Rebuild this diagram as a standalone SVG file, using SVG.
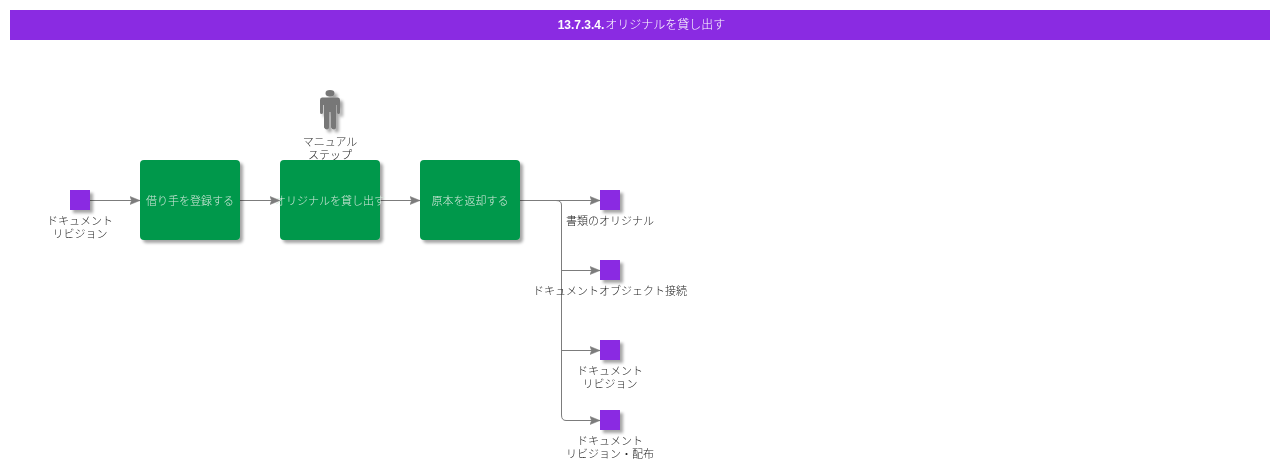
<svg xmlns="http://www.w3.org/2000/svg" width="1280" height="470" viewBox="0 0 1280 470">
<style>
text{font-family:"Liberation Sans","Noto Sans CJK JP",sans-serif;font-size:11px;font-weight:300;text-anchor:middle;opacity:.99}
.l{fill:#222}
.w{fill:#d5e8dc}
.c{fill:none;stroke:#7c7c7c;stroke-width:1}
.b{fill:#8a2be2;filter:url(#s)}
.p{fill:#00984b;filter:url(#s)}
</style>
<defs>
<filter id="s" x="-20%" y="-20%" width="150%" height="150%"><feDropShadow dx="3" dy="3" stdDeviation="1.5" flood-color="#000" flood-opacity="0.35"/></filter>
<marker id="a" markerUnits="userSpaceOnUse" markerWidth="11" markerHeight="10" refX="10" refY="4.500" orient="auto"><path d="M0 0.500L10 4.500L0 8.500L1.500 4.500Z" fill="#7c7c7c" stroke="#7c7c7c" stroke-width=".5"/></marker>
</defs>
<g id="title"><rect x="10" y="10" width="1260" height="30" fill="#8a2be2"/><text x="641.500" y="29" fill="#fff" style="font-size:12px"><tspan style="font-weight:bold">13.7.3.4.</tspan><tspan dx="1">オリジナルを貸し出す</tspan></text></g>
<g id="connectors">
<path class="c" marker-end="url(#a)" d="M90 200.500H140"/>
<path class="c" marker-end="url(#a)" d="M240 200.500H280"/>
<path class="c" marker-end="url(#a)" d="M380 200.500H420"/>
<path class="c" marker-end="url(#a)" d="M520 200.500H600"/>
<path class="c" d="M556 200.500Q561.500 200.500 561.500 205V415"/>
<path class="c" marker-end="url(#a)" d="M561.500 270.500H600"/>
<path class="c" marker-end="url(#a)" d="M561.500 350.500H600"/>
<path class="c" marker-end="url(#a)" d="M561.500 415Q561.500 420.500 566 420.500H600"/>
</g>
<g id="n1"><rect class="b" x="70" y="190" width="20" height="20"/><text class="l" x="80" y="224.500">ドキュメント</text><text class="l" x="80" y="237.500">リビジョン</text></g>
<g id="n2"><rect class="p" x="140" y="160" width="100" height="80" rx="4"/><text class="w" x="190" y="204.500">借り手を登録する</text></g>
<g id="n3"><rect class="p" x="280" y="160" width="100" height="80" rx="4"/><text class="w" x="330" y="204.500">オリジナルを貸し出す</text></g>
<g id="n4"><rect class="p" x="420" y="160" width="100" height="80" rx="4"/><text class="w" x="470" y="204.500">原本を返却する</text></g>
<g id="actor"><path filter="url(#s)" fill="#777" d="M325.500 93.300a4.500 3.300 0 1 1 9 0a4.500 3.300 0 1 1-9 0ZM322 97.500H338Q340 97.500 340 100V112.500Q340 114 338.500 114T337 112.500V105H336V127.500Q336 129.500 334 129.500T331 127.500V112H329V127.500Q329 129.500 327 129.500T324 127.500V105H323V112.500Q323 114 321.500 114T320 112.500V100Q320 97.500 322 97.500Z"/><text class="l" x="330" y="145.500">マニュアル</text><text class="l" x="330" y="158.500">ステップ</text></g>
<g id="o1"><rect class="b" x="600" y="190" width="20" height="20"/><text class="l" x="610" y="224.500">書類のオリジナル</text></g>
<g id="o2"><rect class="b" x="600" y="260" width="20" height="20"/><text class="l" x="610" y="294.500">ドキュメントオブジェクト接続</text></g>
<g id="o3"><rect class="b" x="600" y="340" width="20" height="20"/><text class="l" x="610" y="374.500">ドキュメント</text><text class="l" x="610" y="387.500">リビジョン</text></g>
<g id="o4"><rect class="b" x="600" y="410" width="20" height="20"/><text class="l" x="610" y="444.500">ドキュメント</text><text class="l" x="610" y="457.500">リビジョン・配布</text></g>
</svg>
